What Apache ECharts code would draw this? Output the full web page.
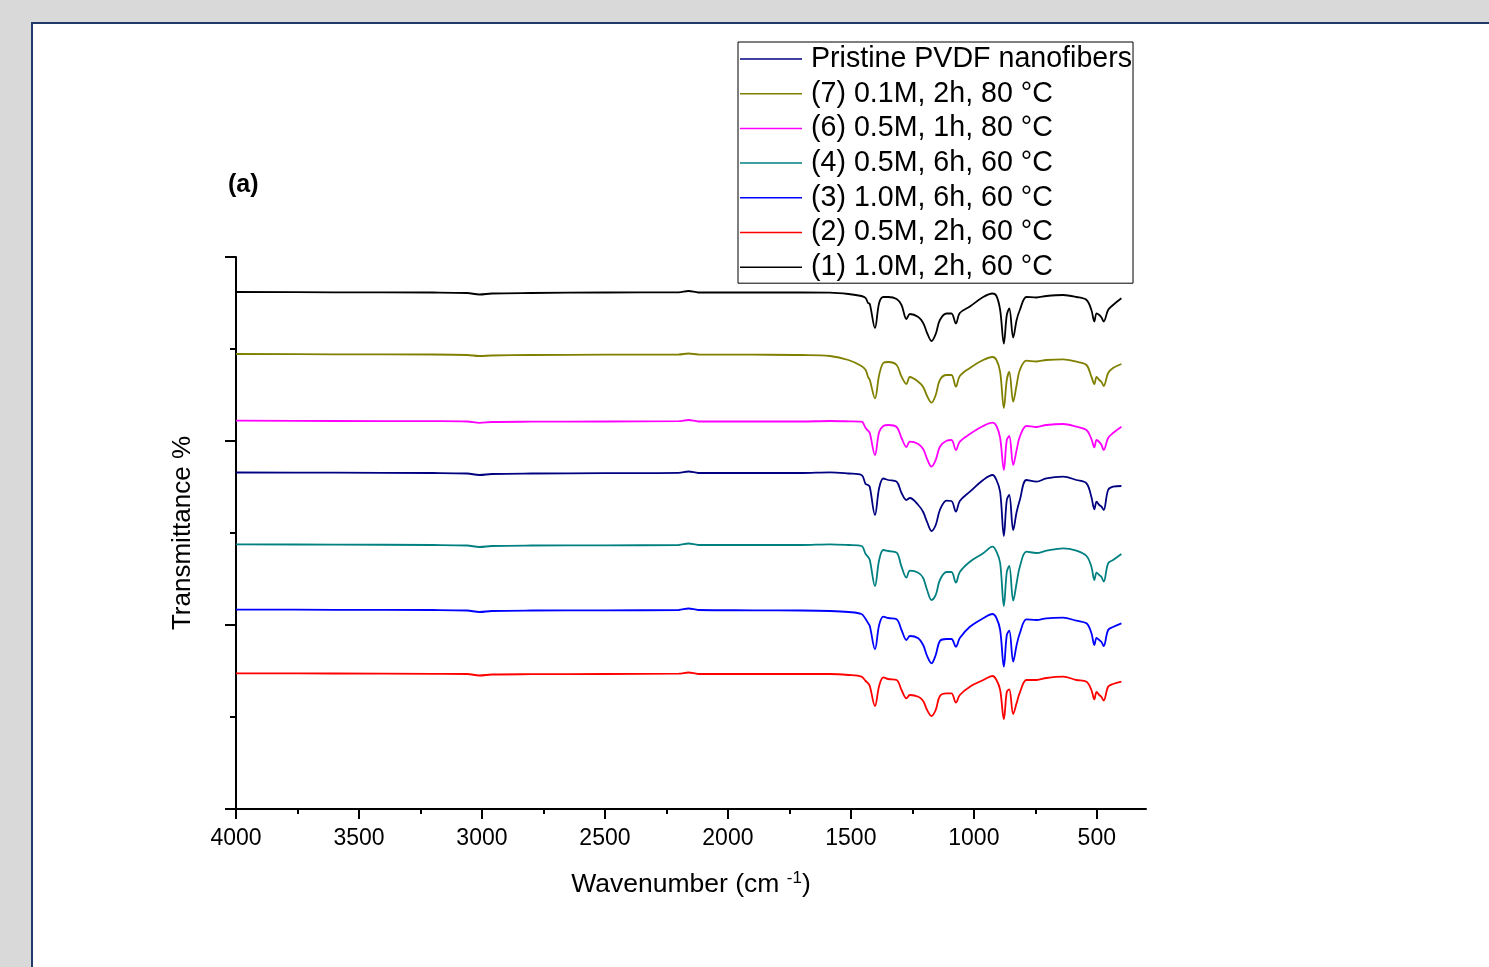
<!DOCTYPE html>
<html>
<head>
<meta charset="utf-8">
<script src="https://cdn.jsdelivr.net/npm/echarts@6/dist/echarts.min.js"></script>
<style>
  html, body { margin: 0; padding: 0; width: 1489px; height: 967px; overflow: hidden; background: #d9d9d9; }
  #panel { position: absolute; left: 31px; top: 22px; width: 1480px; height: 960px; background: #ffffff;
           border-top: 2px solid #1f3a6b; border-left: 2px solid #1f3a6b; }
  #chart { position: absolute; left: 0; top: 0; width: 1489px; height: 967px; }
</style>
</head>
<body>
<div id="panel"></div>
<div id="chart"></div>
<script>
// Wavenumber grid (cm-1)
const wavenumbers = [4000, 3600, 3200, 3060, 3010, 2960, 2800, 2500, 2200, 2160, 2120, 1900, 1700, 1585, 1510, 1457, 1440, 1430, 1423, 1402, 1385, 1368, 1348, 1314, 1294, 1274, 1260, 1226, 1206, 1190, 1172, 1155, 1138, 1111, 1091, 1073, 1057, 1016, 962, 924, 908, 893, 878, 866, 856, 840, 826, 813, 786, 745, 705, 637, 583, 542, 522, 510, 501, 490, 481, 472, 454, 434, 400];

// Offset transmittance (arbitrary units) for each sample
const s1_black = [517, 516.7, 516.5, 516, 514.5, 515.5, 516, 516.5, 516.7, 518, 516.5, 516.5, 516.5, 516.3, 515, 513, 511, 506, 505, 481, 506, 512, 512, 510, 504, 490, 495, 492, 486, 476, 468, 475, 489, 495.5, 495.5, 485.5, 496, 502.5, 512, 515.5, 513, 499, 465.5, 494, 500.5, 471.5, 489, 499, 512, 511.5, 513, 514, 512, 509, 499, 487.5, 495.7, 494, 491.5, 487.5, 499, 504, 510.7];
const s7_olive = [455, 454.7, 454.5, 454, 453, 453.5, 454, 454.3, 454.5, 455.5, 454.5, 454.3, 454, 453, 449, 443, 439, 432, 429, 410.7, 434, 446, 447, 444, 432.3, 425, 432, 427.3, 422, 413, 406.3, 414, 429, 434, 434, 422.3, 433, 441, 449, 452, 449, 437, 401, 429, 437, 407.3, 424, 439, 448.3, 447.5, 449, 449.7, 447.3, 444, 432.3, 425, 432, 429, 427, 423, 436, 441, 445];
const s6_magenta = [388.3, 388, 387.8, 387.5, 386.2, 387, 387.3, 387.5, 387.8, 389, 387.5, 387.5, 387.5, 388, 387.7, 387.3, 381, 378.3, 376, 354, 377, 383, 384, 382, 371, 362, 367.3, 365, 360, 350, 342.3, 349, 362.3, 368.3, 369, 359, 367.3, 375, 383, 386.3, 383, 371, 339, 369, 373, 344, 359, 372.3, 383, 382, 384, 385, 382.3, 379, 370, 361.7, 369, 367, 364, 359, 371, 376, 382.3];
const sP_navy = [336.5, 336.3, 336, 335.5, 334, 335, 335.5, 335.8, 336.2, 337.5, 336, 336, 336, 336.7, 335.5, 334, 325, 324, 322, 294, 321, 330.5, 329, 327.3, 316, 309, 311, 304, 297, 287, 278, 284, 299, 308.3, 308, 297.3, 308, 317.3, 329, 334, 329, 317, 273, 309, 314, 279, 297, 309, 329, 327.3, 330.7, 332.3, 329, 325.7, 312, 299.7, 307.3, 304, 302.3, 299, 319, 322.3, 323];
const s4_teal = [264.6, 264.4, 264, 263.5, 262, 263, 263.5, 263.7, 264, 265.5, 264, 264, 264, 264.7, 264, 263, 255, 252, 249, 223, 249, 259, 258, 256.3, 242.3, 231.3, 238.3, 236.3, 231, 219, 209, 214, 229, 237, 237, 226.3, 237, 247.3, 255.7, 262.3, 257.3, 246, 203, 237, 243, 208.3, 226, 242.3, 257.3, 256, 258.3, 260.7, 258.3, 253, 242.3, 229, 236.3, 234, 232, 227.3, 245.7, 249, 255];
const s3_blue = [199.4, 199.2, 199, 198.5, 197, 198, 198.5, 198.7, 199, 200.5, 199, 198.7, 198.5, 198, 197, 195, 190, 186, 183, 159.7, 184, 192.3, 191, 189.7, 179, 169, 173, 170.7, 164, 153, 145.7, 154, 168, 170, 170, 162.3, 171, 182.3, 190.7, 195, 191, 179, 142.3, 174, 178.3, 147.3, 164, 175.7, 189.7, 189, 190.7, 191.3, 188.3, 185.7, 176, 164, 171, 169, 167, 163, 179, 182, 185.7];
const s2_red = [135.7, 135.5, 135.2, 135, 133.5, 134.5, 134.8, 135, 135.3, 136.5, 135, 135, 135, 135, 134, 132.3, 128, 125.7, 123, 103, 123, 131.7, 130, 129, 119, 110.7, 114, 112.3, 108, 99, 93, 99, 113, 115.7, 115.7, 106.3, 114, 122.3, 129, 133, 129, 119, 89.7, 117, 119.7, 95, 106, 116.3, 129, 129, 131, 132.3, 129, 127.3, 119, 109.7, 117, 114, 112, 108.3, 122.3, 125, 127.3];

const seriesNames = ['Pristine PVDF nanofibers', '(7) 0.1M, 2h, 80 °C', '(6) 0.5M, 1h, 80 °C', '(4) 0.5M, 6h, 60 °C', '(3) 1.0M, 6h, 60 °C', '(2) 0.5M, 2h, 60 °C', '(1) 1.0M, 2h, 60 °C'];
const seriesValues = [sP_navy, s7_olive, s6_magenta, s4_teal, s3_blue, s2_red, s1_black];
const seriesColors = ['#000080', '#808000', '#ff00ff', '#008080', '#0000ff', '#ff0000', '#000000'];

const majorTicks = [4000, 3500, 3000, 2500, 2000, 1500, 1000, 500];
const minorTicks = [3750, 3250, 2750, 2250, 1750, 1250, 750];

const FONT = 'Liberation Sans, Arial, Helvetica, sans-serif';

const chart = echarts.init(document.getElementById('chart'), null, { renderer: 'canvas' });

const series = seriesNames.map((name, i) => ({
  name: name,
  type: 'line',
  xAxisIndex: 0,
  yAxisIndex: 0,
  symbol: 'none',
  showSymbol: false,
  smooth: 0.35,
  lineStyle: { color: seriesColors[i], width: 1.8 },
  itemStyle: { color: seriesColors[i] },
  data: wavenumbers.map((w, k) => [w, seriesValues[i][k]])
}));

chart.setOption({
  backgroundColor: 'transparent',
  animation: false,
  textStyle: { fontFamily: FONT },
  grid: { left: 236, top: 257, right: 343, bottom: 158, containLabel: false },
  graphic: [
    { type: 'text', left: 228, top: 173, style: { text: '(a)', font: 'bold 25px ' + FONT, fill: '#000' } }
  ],
  legend: {
    data: seriesNames,
    orient: 'vertical',
    left: 738,
    top: 42,
    padding: [2, 1, 1, 2],
    itemGap: 4.7,
    itemWidth: 62,
    itemHeight: 1.5,
    icon: 'rect',
    borderColor: '#000',
    borderWidth: 1,
    backgroundColor: '#fff',
    textStyle: { fontFamily: FONT, fontSize: 28.6, color: '#000', lineHeight: 30, padding: [0, 0, 0, 4] }
  },
  xAxis: [
    {
      type: 'value', inverse: true, min: 300, max: 4000, position: 'bottom',
      name: '{a|Wavenumber (cm }{s|-1}{a|)}',
      nameLocation: 'middle', nameGap: 61,
      nameTextStyle: {
        rich: {
          a: { fontFamily: FONT, fontSize: 26.5, color: '#000' },
          s: { fontFamily: FONT, fontSize: 17, color: '#000', verticalAlign: 'top', padding: [0, 0, 12, 0] }
        }
      },
      axisLine: { show: true, onZero: false, lineStyle: { color: '#000', width: 2 } },
      axisTick: { show: true, inside: false, length: 10, customValues: majorTicks, lineStyle: { color: '#000', width: 2 } },
      axisLabel: { show: true, customValues: majorTicks, margin: 18, fontFamily: FONT, fontSize: 23, color: '#000',
                   formatter: v => String(v) },
      splitLine: { show: false }
    },
    {
      type: 'value', inverse: true, min: 300, max: 4000, position: 'bottom', gridIndex: 0,
      axisLine: { show: false },
      axisTick: { show: true, inside: false, length: 5, customValues: minorTicks, lineStyle: { color: '#000', width: 2 } },
      axisLabel: { show: false },
      splitLine: { show: false }
    }
  ],
  yAxis: {
    type: 'value', min: 0, max: 552, interval: 184,
    name: 'Transmittance %', nameLocation: 'middle', nameGap: 40, nameRotate: 90,
    nameTextStyle: { fontFamily: FONT, fontSize: 26, color: '#000' },
    axisLine: { show: true, onZero: false, lineStyle: { color: '#000', width: 2 } },
    axisTick: { show: true, inside: false, length: 11, lineStyle: { color: '#000', width: 2 } },
    minorTick: { show: true, splitNumber: 2, length: 6, lineStyle: { color: '#000', width: 2 } },
    axisLabel: { show: false },
    splitLine: { show: false },
    minorSplitLine: { show: false }
  },
  series: series
});
</script>
</body>
</html>
